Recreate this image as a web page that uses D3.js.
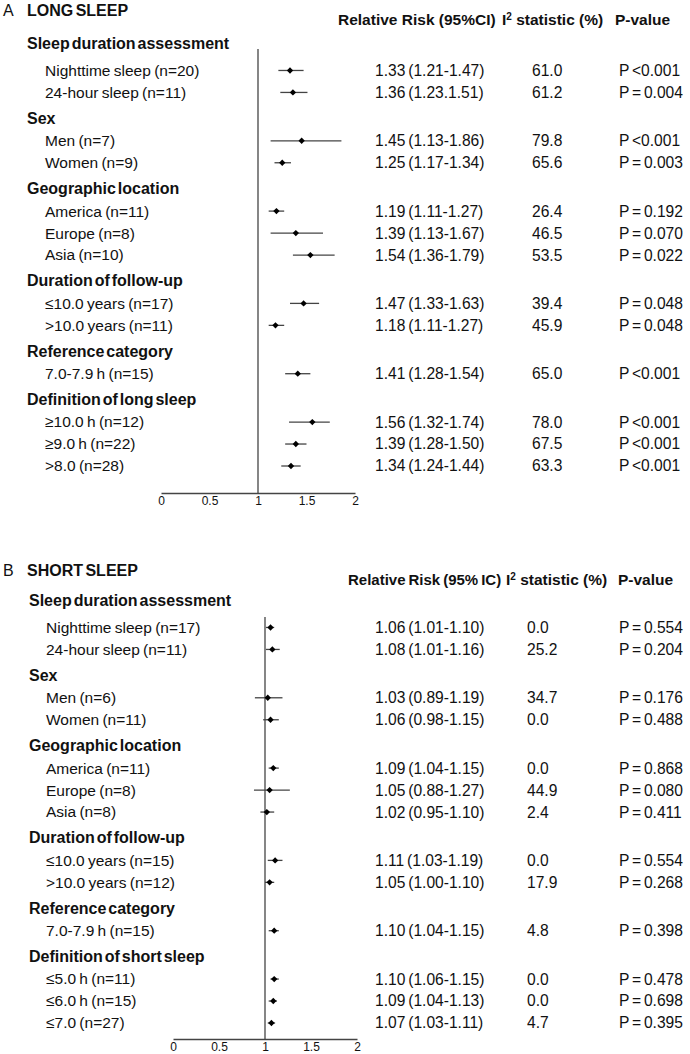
<!DOCTYPE html>
<html>
<head>
<meta charset="utf-8">
<script src="https://cdn.jsdelivr.net/npm/d3@7"></script>
<style>
	body { margin: 0; background: #fff; }
	svg { display: block; font-family: "Liberation Sans", Arial, sans-serif; }
</style>
</head>
<body>
<svg class="chart"></svg>
<script>
const [width, height] = [690, 1054]

// A - long sleep
const longGroups = ['Sleep duration assessment', 'Sex', 'Geographic location', 'Duration of follow-up', 'Reference category', 'Definition of long sleep']
const longGroupSizes = [2, 2, 3, 2, 1, 3]
const longLabels = ['Nighttime sleep (n=20)', '24-hour sleep (n=11)', 'Men (n=7)', 'Women (n=9)', 'America (n=11)', 'Europe (n=8)', 'Asia (n=10)',
	'≤10.0 years (n=17)', '>10.0 years (n=11)', '7.0-7.9 h (n=15)', '≥10.0 h (n=12)', '≥9.0 h (n=22)', '>8.0 (n=28)']
const longRR = [1.33, 1.36, 1.45, 1.25, 1.19, 1.39, 1.54, 1.47, 1.18, 1.41, 1.56, 1.39, 1.34]
const longLo = [1.21, 1.23, 1.13, 1.17, 1.11, 1.13, 1.36, 1.33, 1.11, 1.28, 1.32, 1.28, 1.24]
const longHi = [1.47, 1.51, 1.86, 1.34, 1.27, 1.67, 1.79, 1.63, 1.27, 1.54, 1.74, 1.50, 1.44]
const longRRText = ['1.33 (1.21-1.47)', '1.36 (1.23.1.51)', '1.45 (1.13-1.86)', '1.25 (1.17-1.34)', '1.19 (1.11-1.27)', '1.39 (1.13-1.67)', '1.54 (1.36-1.79)',
	'1.47 (1.33-1.63)', '1.18 (1.11-1.27)', '1.41 (1.28-1.54)', '1.56 (1.32-1.74)', '1.39 (1.28-1.50)', '1.34 (1.24-1.44)']
const longI2 = ['61.0', '61.2', '79.8', '65.6', '26.4', '46.5', '53.5', '39.4', '45.9', '65.0', '78.0', '67.5', '63.3']
const longP = ['P <0.001', 'P = 0.004', 'P <0.001', 'P = 0.003', 'P = 0.192', 'P = 0.070', 'P = 0.022', 'P = 0.048', 'P = 0.048', 'P <0.001', 'P <0.001', 'P <0.001', 'P <0.001']

// B - short sleep
const shortGroups = ['Sleep duration assessment', 'Sex', 'Geographic location', 'Duration of follow-up', 'Reference category', 'Definition of short sleep']
const shortGroupSizes = [2, 2, 3, 2, 1, 3]
const shortLabels = ['Nighttime sleep (n=17)', '24-hour sleep (n=11)', 'Men (n=6)', 'Women (n=11)', 'America (n=11)', 'Europe (n=8)', 'Asia (n=8)',
	'≤10.0 years (n=15)', '>10.0 years (n=12)', '7.0-7.9 h (n=15)', '≤5.0 h (n=11)', '≤6.0 h (n=15)', '≤7.0 (n=27)']
const shortRR = [1.06, 1.08, 1.03, 1.06, 1.09, 1.05, 1.02, 1.11, 1.05, 1.10, 1.10, 1.09, 1.07]
const shortLo = [1.01, 1.01, 0.89, 0.98, 1.04, 0.88, 0.95, 1.03, 1.00, 1.04, 1.06, 1.04, 1.03]
const shortHi = [1.10, 1.16, 1.19, 1.15, 1.15, 1.27, 1.10, 1.19, 1.10, 1.15, 1.15, 1.13, 1.11]
const shortRRText = ['1.06 (1.01-1.10)', '1.08 (1.01-1.16)', '1.03 (0.89-1.19)', '1.06 (0.98-1.15)', '1.09 (1.04-1.15)', '1.05 (0.88-1.27)', '1.02 (0.95-1.10)',
	'1.11 (1.03-1.19)', '1.05 (1.00-1.10)', '1.10 (1.04-1.15)', '1.10 (1.06-1.15)', '1.09 (1.04-1.13)', '1.07 (1.03-1.11)']
const shortI2 = ['0.0', '25.2', '34.7', '0.0', '0.0', '44.9', '2.4', '0.0', '17.9', '4.8', '0.0', '0.0', '4.7']
const shortP = ['P = 0.554', 'P = 0.204', 'P = 0.176', 'P = 0.488', 'P = 0.868', 'P = 0.080', 'P = 0.411', 'P = 0.554', 'P = 0.268', 'P = 0.398', 'P = 0.478', 'P = 0.698', 'P = 0.395']

const ticks = [0, 0.5, 1, 1.5, 2]

const svg = d3.select('svg.chart')
	.attr('width', width)
	.attr('height', height)

const ink = '#111'
const lineColor = '#444'

function drawPanel(p) {
	const g = svg.append('g')

	// row slots: groups and their items
	const rows = []
	let slot = 0
	let idx = 0
	p.groups.forEach((name, gi) => {
		if (gi > 0) slot += 1.17
		rows.push({ kind: 'group', text: name, slot })
		for (let k = 0; k < p.sizes[gi]; k++) {
			slot += k === 0 ? (gi === 0 ? 1.25 : 1.03) : 1
			rows.push({ kind: 'item', slot, i: idx++ })
		}
	})
	const items = rows.filter(r => r.kind === 'item')

	const x = d3.scaleLinear().domain([0, 2]).range(p.xRange)
	const y = d3.scaleLinear().domain([0, slot]).range([p.yTop, p.yBottom])

	// panel letter and title
	g.append('text')
		.attr('x', 3).attr('y', p.titleY).attr('dy', '0.35em')
		.attr('font-size', 16).attr('fill', ink)
		.text(p.letter)
	g.append('text')
		.attr('x', 27).attr('y', p.titleY).attr('dy', '0.35em')
		.attr('font-size', 16).attr('font-weight', 'bold').attr('fill', ink)
		.attr('word-spacing', -2)
		.text(p.title)

	// column headers
	const head = g.append('g')
		.attr('font-size', p.headSize).attr('font-weight', 'bold').attr('fill', ink)
		.attr('word-spacing', p.headSpacing)
	head.append('text')
		.attr('x', p.headX[0]).attr('y', p.headY).attr('dy', '0.35em')
		.text(p.rrHead)
	const i2 = head.append('text')
		.attr('x', p.headX[1]).attr('y', p.headY).attr('dy', '0.35em')
		.attr('font-size', 15.5).attr('word-spacing', 0)
	i2.append('tspan').text('I')
	i2.append('tspan').attr('font-size', 10).attr('dy', -5).text('2')
	i2.append('tspan').attr('dy', 5).text(' statistic (%)')
	head.append('text')
		.attr('x', p.headX[2]).attr('y', p.headY).attr('dy', '0.35em')
		.attr('font-size', 15.5)
		.text('P-value')

	// row labels
	g.selectAll('text.row')
			.data(rows)
		.enter().append('text')
			.attr('class', 'row')
			.attr('x', d => d.kind === 'group' ? p.groupX : p.itemX)
			.attr('y', d => y(d.slot))
			.attr('dy', '0.35em')
			.attr('fill', ink)
			.attr('font-size', d => d.kind === 'group' ? 16 : 15.5)
			.attr('font-weight', d => d.kind === 'group' ? 'bold' : 'normal')
			.attr('word-spacing', d => d.kind === 'group' ? -2.5 : -1)
			.text(d => d.kind === 'group' ? d.text : p.labels[d.i])

	// reference line at RR = 1
	g.append('line')
		.attr('x1', x(1)).attr('x2', x(1))
		.attr('y1', p.lineTop).attr('y2', p.axisY)
		.attr('stroke', lineColor).attr('stroke-width', 1.3)

	// axis
	const axis = g.append('g')
		.attr('transform', `translate(0,${p.axisY})`)
		.call(d3.axisBottom(x).tickValues(ticks).tickFormat(d3.format('~g')).tickSize(0).tickPadding(3))
	axis.select('.domain').attr('stroke', lineColor).attr('stroke-width', 1.3)
	axis.selectAll('.tick text')
		.attr('font-size', 12)
		.attr('font-family', '"Liberation Sans", Arial, sans-serif')
		.attr('fill', ink)

	// confidence intervals
	g.selectAll('line.ci')
			.data(items)
		.enter().append('line')
			.attr('class', 'ci')
			.attr('x1', d => x(p.lo[d.i]))
			.attr('x2', d => x(p.hi[d.i]))
			.attr('y1', d => y(d.slot))
			.attr('y2', d => y(d.slot))
			.attr('stroke', lineColor)
			.attr('stroke-width', 1.3)

	// point estimates
	g.selectAll('path.pt')
			.data(items)
		.enter().append('path')
			.attr('class', 'pt')
			.attr('d', d3.symbol(d3.symbolSquare, 20))
			.attr('transform', d => `translate(${x(p.rr[d.i])},${y(d.slot)}) rotate(45)`)
			.attr('fill', '#000')

	// value columns
	const cols = [
		[p.valX[0], p.rrText],
		[p.valX[1], p.i2],
		[p.valX[2], p.pv],
	]
	cols.forEach(([cx, vals]) => {
		g.selectAll(null)
				.data(items)
			.enter().append('text')
				.attr('x', cx)
				.attr('y', d => y(d.slot))
				.attr('dy', '0.35em')
				.attr('font-size', 15.6)
				.attr('word-spacing', -1.5)
				.attr('fill', ink)
				.text(d => vals[d.i])
	})
}

drawPanel({
	letter: 'A', title: 'LONG SLEEP', titleY: 10,
	rrHead: 'Relative Risk (95%CI)', headX: [338, 502, 615], headY: 20, headSize: 15.5, headSpacing: 0,
	groups: longGroups, sizes: longGroupSizes, labels: longLabels,
	rr: longRR, lo: longLo, hi: longHi, rrText: longRRText, i2: longI2, pv: longP,
	groupX: 27, itemX: 45, valX: [375, 532, 619],
	xRange: [161, 355], yTop: 43, yBottom: 466, lineTop: 49, axisY: 493,
})

drawPanel({
	letter: 'B', title: 'SHORT SLEEP', titleY: 570,
	rrHead: 'Relative Risk (95% IC)', headX: [348, 506, 618], headY: 580, headSize: 15, headSpacing: -1.2,
	groups: shortGroups, sizes: shortGroupSizes, labels: shortLabels,
	rr: shortRR, lo: shortLo, hi: shortHi, rrText: shortRRText, i2: shortI2, pv: shortP,
	groupX: 29, itemX: 46, valX: [375, 527, 619],
	xRange: [173, 357], yTop: 600, yBottom: 1023, lineTop: 617, axisY: 1039,
})
</script>
</body>
</html>
